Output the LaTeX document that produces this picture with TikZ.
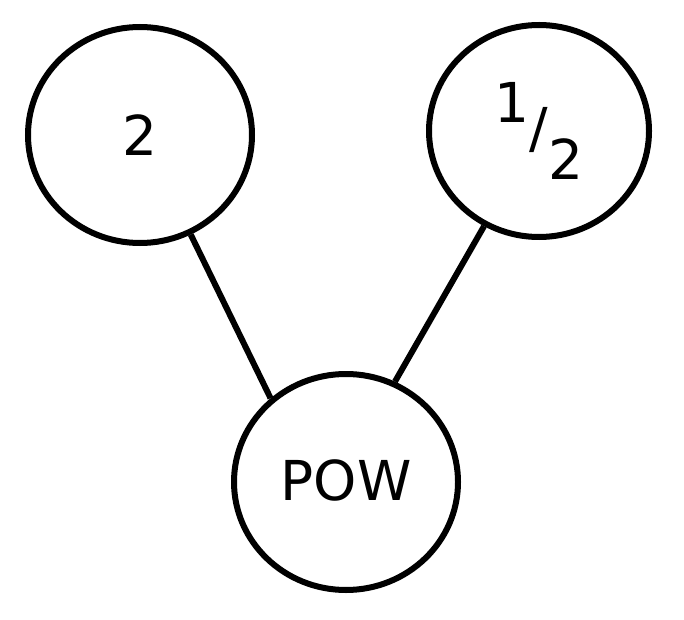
\documentclass[tikz,border=0pt]{standalone}
\usepackage{fontspec}
\setmainfont{DejaVu Sans}
\usepackage{tikz}
\usetikzlibrary{shapes.geometric}

\begin{document}
\begin{tikzpicture}[x=1pt, y=1pt, line width=6pt,
		term/.style={draw, ellipse, minimum width=224pt, minimum height=216pt,
			inner sep=0pt, font=\fontsize{55}{66}\selectfont}]
	\useasboundingbox (0, 0) rectangle (684, 619);
	\node[term] (base) at (140, 484) {2};
	\node[term, minimum width=220pt, minimum height=212pt] (expo) at (539, 488)
		{\raisebox{0.44em}{1}/\raisebox{-0.58em}{2}};
	\node[term] (pow) at (346, 137) {\raisebox{0.08em}{POW}};
	\draw (base.-63) to (pow.132);
	\draw (expo.-120) to (pow.64);
\end{tikzpicture}
\end{document}
